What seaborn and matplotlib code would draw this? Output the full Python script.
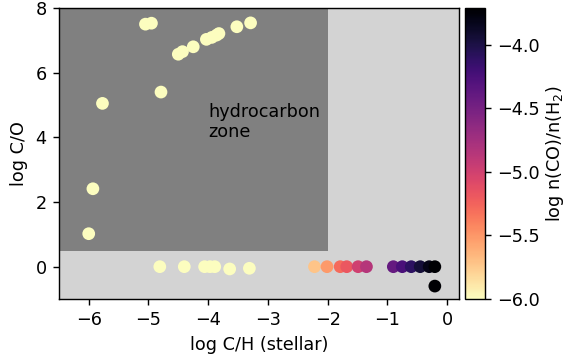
import numpy as np
import pandas as pd
import matplotlib
matplotlib.use("Agg")
import matplotlib.pyplot as plt
import seaborn as sns

# Stellar carbon abundance, resulting C/O, and CO abundance for each model
log_ch = [-6.0, -5.93, -5.77, -5.05, -4.95, -4.79, -4.50, -4.43, -4.25,
          -4.03, -3.94, -3.86, -3.82, -3.52, -3.29,
          -4.81, -4.40, -4.06, -3.97, -3.89, -3.64, -3.31,
          -2.22, -2.01, -1.79, -1.68, -1.49, -1.35,
          -0.90, -0.75, -0.60, -0.45, -0.30, -0.205, -0.205]
log_co = [1.02, 2.41, 5.05, 7.50, 7.53, 5.40, 6.57, 6.65, 6.80,
          7.03, 7.09, 7.16, 7.21, 7.42, 7.54,
          0.0, 0.0, 0.0, 0.0, 0.0, -0.07, -0.05,
          0.0, 0.0, 0.0, 0.0, 0.0, 0.0,
          0.0, 0.0, 0.0, 0.0, 0.0, 0.0, -0.60]
log_nco = [-6.0, -6.0, -6.0, -6.0, -6.0, -6.0, -6.0, -6.0, -6.0,
           -6.0, -6.0, -6.0, -6.0, -6.0, -6.0,
           -6.0, -6.0, -6.0, -6.0, -6.0, -6.0, -6.0,
           -5.72, -5.51, -5.29, -5.18, -4.99, -4.85,
           -4.40, -4.25, -4.10, -3.95, -3.80, -3.71, -3.71]

cmin, cmax = -6.0, -3.71

df = pd.DataFrame({"ch": log_ch, "co": log_co, "nco": log_nco})

dpi = 127
fig = plt.figure(figsize=(566 / dpi, 360 / dpi), dpi=dpi)
ax = fig.add_axes([0.104, 0.1694, 0.707, 0.8084])
cax = fig.add_axes([0.8216, 0.1694, 0.0353, 0.8084])

ax.set_facecolor("lightgray")
# hydrocarbon-dominated region
ax.fill_between([-6.5, -2.0], 0.5, 8.0, color="gray", lw=0, zorder=0)
ax.text(-4.0, 4.0, "hydrocarbon\nzone", fontsize=10)

norm = plt.Normalize(cmin, cmax)
sns.scatterplot(data=df, x="ch", y="co", hue="nco", palette="magma_r",
                hue_norm=norm, s=52, linewidth=0, legend=False, ax=ax,
                zorder=3)

ax.set_xlim(-6.5, 0.2)
ax.set_ylim(-1, 8)
ax.set_yticks([0, 2, 4, 6, 8])
ax.set_xlabel("log C/H (stellar)")
ax.set_ylabel("log C/O")

sm = matplotlib.cm.ScalarMappable(norm=norm, cmap="magma_r")
cb = fig.colorbar(sm, cax=cax)
cb.set_ticks([-6.0, -5.5, -5.0, -4.5, -4.0])
cb.set_label("log n(CO)/n(H$_2$)", labelpad=2)

fig.savefig("out.png", dpi=dpi)
